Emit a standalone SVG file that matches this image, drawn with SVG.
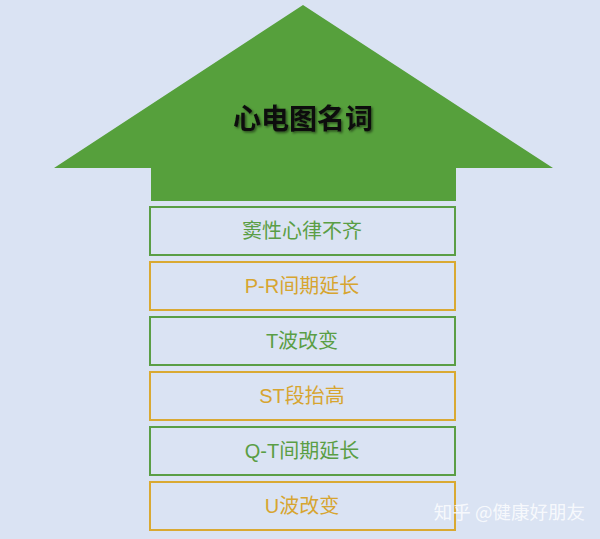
<svg xmlns="http://www.w3.org/2000/svg" width="600" height="539" viewBox="0 0 600 539">
<defs>
<style>
.box{fill:none;stroke-width:2}
.g{stroke:#5a9e45}
.o{stroke:#d9a932}
.t{font-family:"Liberation Sans","Noto Sans CJK SC",sans-serif;font-size:20px;text-anchor:middle}
.tg{fill:#5a9e45}
.to{fill:#d7a530}
</style>
<filter id="sh" x="-10%" y="-20%" width="130%" height="150%">
<feDropShadow dx="1.5" dy="1.5" stdDeviation="1" flood-color="#000" flood-opacity="0.5"/>
</filter>
</defs>
<rect width="600" height="539" fill="#dae3f3"/>
<g id="arrow">
<polygon points="303,5 553,168 456,168 456,201 151,201 151,168 54,168" fill="#56a03c"/>
<text x="303" y="129" font-family="'Noto Sans CJK SC',sans-serif" font-weight="bold" font-size="28" text-anchor="middle" fill="#111" filter="url(#sh)">心电图名词</text>
</g>
<g id="n1"><rect class="box g" x="150" y="207" width="305" height="48"/><text class="t tg" x="302" y="238">窦性心律不齐</text></g>
<g id="n2"><rect class="box o" x="150" y="262" width="305" height="48"/><text class="t to" x="302" y="293">P-R间期延长</text></g>
<g id="n3"><rect class="box g" x="150" y="317" width="305" height="48"/><text class="t tg" x="302" y="348">T波改变</text></g>
<g id="n4"><rect class="box o" x="150" y="372" width="305" height="48"/><text class="t to" x="302" y="403">ST段抬高</text></g>
<g id="n5"><rect class="box g" x="150" y="427" width="305" height="48"/><text class="t tg" x="302" y="458">Q-T间期延长</text></g>
<g id="n6"><rect class="box o" x="150" y="482" width="305" height="48"/><text class="t to" x="302" y="513">U波改变</text></g>
<g id="connectors"></g>
<text x="585" y="519" font-family="'Noto Sans CJK SC',sans-serif" font-size="18.5" text-anchor="end" fill="#ffffff" fill-opacity="0.8">知乎 @健康好朋友</text>
</svg>
